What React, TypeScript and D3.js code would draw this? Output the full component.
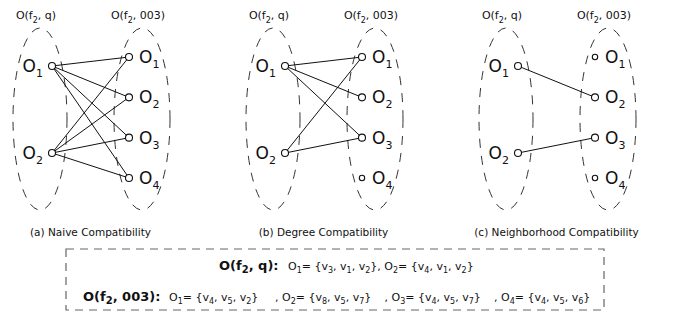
import * as d3 from "d3";

// panels and their captions
const panels = ["(a) Naive Compatibility", "(b) Degree Compatibility", "(c) Neighborhood Compatibility"];
const leftNodes = ["1", "2"];
const rightNodes = ["1", "2", "3", "4"];
const queryName = "q";
const targetName = "003";

// matches [left index, right index] per panel
const naiveEdges = [[0, 0], [0, 1], [0, 2], [0, 3], [1, 0], [1, 1], [1, 2], [1, 3]];
const degreeEdges = [[0, 0], [0, 1], [0, 2], [1, 0], [1, 2]];
const neighborhoodEdges = [[0, 1], [1, 2]];
const panelEdges = [naiveEdges, degreeEdges, neighborhoodEdges];

// vertex sets shown in the box
const querySets = [["3", "1", "2"], ["4", "1", "2"]];
const targetSets = [["4", "5", "2"], ["8", "5", "7"], ["4", "5", "7"], ["4", "5", "6"]];

const W = 683;
const H = 312;
const FONT = "DejaVu Sans, sans-serif";

type Seg = { t: string; sub?: boolean };

function Rich({ x, y, segs, size, subSize, shift, anchor = "start", weight = "normal", fill = "#111" }: any) {
  let inSub = false;
  return (
    <text x={x} y={y} fontSize={size} fontFamily={FONT} fontWeight={weight} textAnchor={anchor} fill={fill}>
      {segs.map((s: Seg, i: number) => {
        let dy = 0;
        if (s.sub && !inSub) dy = shift;
        if (!s.sub && inSub) dy = -shift;
        inSub = !!s.sub;
        return (
          <tspan key={i} dy={dy} fontSize={s.sub ? subSize : size} style={{ whiteSpace: "pre" }}>
            {s.t}
          </tspan>
        );
      })}
    </text>
  );
}

function setSegs(name: string, set: string[]): Seg[] {
  const out: Seg[] = [{ t: "O" }, { t: name, sub: true }, { t: "= {" }];
  set.forEach((v, i) => {
    out.push({ t: "v" }, { t: v, sub: true });
    out.push({ t: i < set.length - 1 ? ", " : "}" });
  });
  return out;
}

export default function App() {
  const px = d3.scalePoint<string>().domain(panels).range([52, 518]);
  const yl = d3.scalePoint<string>().domain(leftNodes).range([66, 153]);
  const yr = d3.scalePoint<string>().domain(rightNodes).range([57, 178]);
  const gap = 77;
  const ellCy = 119;

  // start of the ", O_i = {...}" items on the second line
  const tx = d3.scaleLinear().domain([1, 3]).range([275, 494]);

  const line1: Seg[] = [];
  querySets.forEach((s, i) => {
    if (i > 0) line1.push({ t: ", " });
    line1.push(...setSegs(leftNodes[i], s));
  });

  return (
    <svg width={W} height={H} style={{ position: "absolute", left: 0, top: 0, background: "#fff" }}>
      {panels.map((p, pi) => {
        const x0 = px(p)!;
        const x1 = x0 + gap;
        const edges = panelEdges[pi];
        const usedL = new Set(edges.map((e) => e[0]));
        const usedR = new Set(edges.map((e) => e[1]));
        return (
          <g key={p}>
            <ellipse cx={x0 - 12} cy={ellCy} rx={27} ry={91} fill="none" stroke="#333" strokeWidth={1} strokeDasharray="9,8" />
            <ellipse cx={x1 + 13} cy={ellCy} rx={28} ry={91} fill="none" stroke="#333" strokeWidth={1} strokeDasharray="9,8" />
            <Rich x={x0 - 16} y={19} size={11} subSize={8} shift={3.5} anchor="middle"
              segs={[{ t: "O(f" }, { t: "2", sub: true }, { t: ", " + queryName + ")" }]} />
            <Rich x={x1 + 9} y={19} size={11} subSize={8} shift={3.5} anchor="middle"
              segs={[{ t: "O(f" }, { t: "2", sub: true }, { t: ", " + targetName + ")" }]} />
            {edges.map((e, i) => (
              <line key={i} x1={x0} y1={yl(leftNodes[e[0]])} x2={x1} y2={yr(rightNodes[e[1]])} stroke="#111" strokeWidth={1} />
            ))}
            {leftNodes.map((n, i) => (
              <g key={"l" + n}>
                <circle cx={x0} cy={yl(n)} r={usedL.has(i) ? 3.5 : 2.7} fill="#fff" stroke="#111" strokeWidth={1.1} />
                <Rich x={x0 - 9} y={yl(n)! + 6} size={17} subSize={11} shift={5} anchor="end"
                  segs={[{ t: "O" }, { t: n, sub: true }]} />
              </g>
            ))}
            {rightNodes.map((n, i) => (
              <g key={"r" + n}>
                <circle cx={x1} cy={yr(n)} r={usedR.has(i) ? 3.5 : 2.7} fill="#fff" stroke="#111" strokeWidth={1.1} />
                <Rich x={x1 + 10} y={yr(n)! + 6} size={17} subSize={11} shift={5}
                  segs={[{ t: "O" }, { t: n, sub: true }]} />
              </g>
            ))}
            <text x={(x0 + x1) / 2} y={236} fontSize={10.5} fontFamily={FONT} textAnchor="middle" fill="#111">{p}</text>
          </g>
        );
      })}

      <rect x={66} y={249} width={538} height={61} fill="none" stroke="#666" strokeWidth={1.2} strokeDasharray="8,6" />

      <Rich x={219} y={270} size={13} subSize={10} shift={3} weight="bold"
        segs={[{ t: "O(f" }, { t: "2", sub: true }, { t: ", " + queryName + "):" }]} />
      <Rich x={288} y={270} size={11} subSize={8} shift={3} segs={line1} />

      <Rich x={83} y={301} size={13} subSize={10} shift={3} weight="bold"
        segs={[{ t: "O(f" }, { t: "2", sub: true }, { t: ", " + targetName + "):" }]} />
      {targetSets.map((s, i) => (
        <Rich key={i} x={i === 0 ? 169 : tx(i)} y={301} size={11} subSize={8} shift={3} anchor="start"
          segs={[...(i > 0 ? [{ t: ", " }] : []), ...setSegs(rightNodes[i], s)]} />
      ))}
    </svg>
  );
}
